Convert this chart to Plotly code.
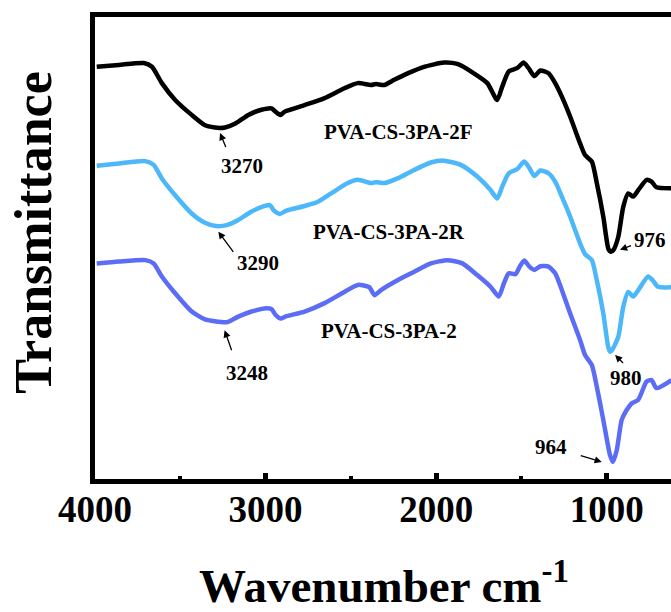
import plotly.graph_objects as go

# FTIR spectra (wavenumber in cm^-1, transmittance in arbitrary offset units)
wn_2f = [3990, 3860, 3714, 3666, 3608, 3530, 3433, 3355, 3297, 3270, 3238, 3180, 3101, 3024,
         2965, 2942, 2913, 2888, 2771, 2654, 2538, 2459, 2382, 2353, 2304, 2246, 2167, 2071,
         1954, 1876, 1779, 1700, 1642, 1613, 1574, 1525, 1487, 1458, 1424, 1389, 1341, 1302,
         1263, 1214, 1156, 1127, 1087, 1058, 1020, 990, 976, 960, 932, 903, 874, 845, 815,
         766, 737, 708, 620]
t_2f = [88.8, 89.2, 89.6, 88.8, 85.3, 81.7, 78.5, 76.3, 75.8, 75.7, 75.8, 76.6, 78.5, 79.6,
        79.9, 79.2, 78.5, 79.2, 80.6, 82.1, 84.2, 85.3, 84.9, 85.1, 84.9, 86.0, 87.4, 88.8,
        89.7, 89.4, 87.4, 85.3, 81.7, 84.5, 87.8, 88.5, 89.7, 88.5, 86.8, 88.0, 87.4, 85.3,
        82.4, 78.1, 72.4, 69.9, 68.5, 63.9, 56.7, 49.8, 49.2, 49.6, 52.4, 58.8, 61.7, 61.0, 62.4,
        64.6, 64.2, 63.0, 62.8]

wn_2r = [3990, 3860, 3705, 3656, 3608, 3530, 3433, 3355, 3290, 3228, 3160, 3082, 3005, 2975,
         2950, 2917, 2878, 2771, 2693, 2615, 2518, 2459, 2382, 2353, 2304, 2226, 2129, 2031,
         1954, 1856, 1759, 1681, 1642, 1613, 1574, 1525, 1483, 1453, 1424, 1389, 1341, 1302,
         1263, 1214, 1156, 1127, 1087, 1058, 1020, 992, 980, 966, 932, 903, 874, 845, 815,
         757, 731, 699, 620]
t_2r = [67.6, 68.1, 68.6, 67.8, 64.9, 61.3, 57.4, 55.4, 54.7, 54.9, 56.0, 57.8, 59.0, 59.2,
        58.0, 57.3, 58.0, 59.0, 59.9, 61.7, 63.9, 64.6, 63.9, 64.1, 63.9, 64.9, 66.7, 68.3,
        68.7, 67.8, 65.3, 62.4, 60.6, 63.1, 66.0, 66.9, 68.5, 67.1, 65.4, 66.6, 66.0, 64.2,
        61.0, 56.7, 51.0, 48.7, 47.4, 43.1, 36.0, 29.0, 27.8, 28.3, 31.0, 37.4, 40.6, 39.6, 41.0,
        43.9, 43.1, 41.7, 41.6]

wn_2 = [3990, 3860, 3705, 3656, 3608, 3530, 3433, 3355, 3277, 3248, 3218, 3160, 3082, 2995,
        2965, 2942, 2913, 2878, 2771, 2654, 2538, 2459, 2392, 2362, 2323, 2226, 2129, 2031,
        1934, 1846, 1759, 1681, 1633, 1603, 1574, 1535, 1510, 1483, 1453, 1424, 1389, 1341,
        1302, 1263, 1214, 1156, 1127, 1087, 1058, 1020, 981, 964, 941, 912, 883, 854, 815,
        766, 737, 708, 620]
t_2 = [46.7, 47.1, 47.4, 46.7, 43.9, 40.3, 36.4, 34.7, 34.2, 34.1, 34.2, 35.3, 36.4, 37.1,
       36.9, 35.7, 34.9, 35.4, 36.4, 38.2, 40.6, 42.1, 41.6, 39.9, 41.0, 43.1, 44.9, 46.7,
       47.4, 46.7, 44.2, 41.7, 39.6, 42.4, 44.6, 44.4, 46.0, 47.3, 46.0, 45.3, 46.1, 46.0,
       44.6, 41.0, 36.0, 30.3, 27.1, 24.9, 20.3, 13.2, 5.7, 4.2, 6.7, 13.2, 15.3, 16.7, 17.5,
       21.4, 21.7, 20.0, 21.7]

series_names = ["PVA-CS-3PA-2F", "PVA-CS-3PA-2R", "PVA-CS-3PA-2"]
series_colors = ["#000000", "#4CB8FA", "#5B6DF5"]

# Labelled absorption bands: (wavenumber, transmittance at arrow tip)
peak_wn = [3270, 3290, 3248, 976, 980, 964]
peak_tip_wn = [3267, 3277, 3240, 922, 951, 1029]
peak_tip_t = [74.6, 53.5, 32.4, 49.6, 27.1, 4.2]
peak_arrow_ax = [7, 17, 8, 13, 10, -23]
peak_arrow_ay = [17, 23, 23, -5, 10, -7]
peak_label_wn = [3141, 3044, 3111, 747, 884, 1325]
peak_label_t = [67.6, 46.8, 23.2, 51.7, 22.2, 7.4]

name_label_wn = [2218, 2277, 2277]
name_label_t = [74.8, 53.4, 32.2]

FONT = "Liberation Serif"

fig = go.Figure()
for wn, t, name, color in zip([wn_2f, wn_2r, wn_2], [t_2f, t_2r, t_2], series_names, series_colors):
    fig.add_trace(go.Scatter(x=wn, y=t, mode="lines", name=name,
                             line=dict(color=color, width=4.5, shape="spline", smoothing=0.6)))

annotations = []
for i in range(len(peak_wn)):
    # arrow pointing at the band minimum
    annotations.append(dict(x=peak_tip_wn[i], y=peak_tip_t[i], xref="x", yref="y",
                            text=" ", showarrow=True, ax=peak_arrow_ax[i], ay=peak_arrow_ay[i],
                            arrowhead=2, arrowsize=1.1, arrowwidth=1.3, arrowcolor="#000000",
                            standoff=0, startstandoff=0, font=dict(size=2)))
    annotations.append(dict(x=peak_label_wn[i], y=peak_label_t[i], xref="x", yref="y",
                            text=str(peak_wn[i]), showarrow=False,
                            font=dict(family=FONT, size=21, color="#000000", weight="bold")))
for i in range(len(series_names)):
    annotations.append(dict(x=name_label_wn[i], y=name_label_t[i], xref="x", yref="y",
                            text=series_names[i], showarrow=False,
                            font=dict(family=FONT, size=21, color="#000000", weight="bold")))

# Axis titles
annotations.append(dict(x=0.502, y=-0.292, xref="paper", yref="paper",
                        text="Wavenumber cm<sup>-1</sup>", showarrow=False,
                        xanchor="center", yanchor="bottom",
                        font=dict(family=FONT, size=47, color="#000000", weight="bold")))
annotations.append(dict(x=-0.106, y=0.535, xref="paper", yref="paper",
                        text="Transmittance", showarrow=False, textangle=-90,
                        xanchor="center", yanchor="middle",
                        font=dict(family=FONT, size=52, color="#000000", weight="bold")))

fig.update_layout(
    width=671, height=612,
    margin=dict(l=95, r=0, t=17, b=133),
    paper_bgcolor="white", plot_bgcolor="white",
    showlegend=False,
    annotations=annotations,
    xaxis=dict(range=[4000, 623], tickvals=[4000, 3000, 2000, 1000],
               ticks="inside", ticklen=6, tickwidth=4.5, tickcolor="#000000",
               minor=dict(tickvals=[3500, 2500, 1500], ticks="inside", ticklen=3,
                          tickwidth=4, tickcolor="#000000"),
               showline=True, linewidth=4.8, linecolor="#000000", mirror=True,
               showgrid=False, zeroline=False, ticklabelstandoff=-6,
               tickfont=dict(family=FONT, size=37, color="#000000", weight="bold")),
    yaxis=dict(range=[0.54, 99.46], showticklabels=False, ticks="",
               showline=True, linewidth=4.8, linecolor="#000000", mirror=False,
               showgrid=False, zeroline=False),
)

fig.write_html("out.html")
